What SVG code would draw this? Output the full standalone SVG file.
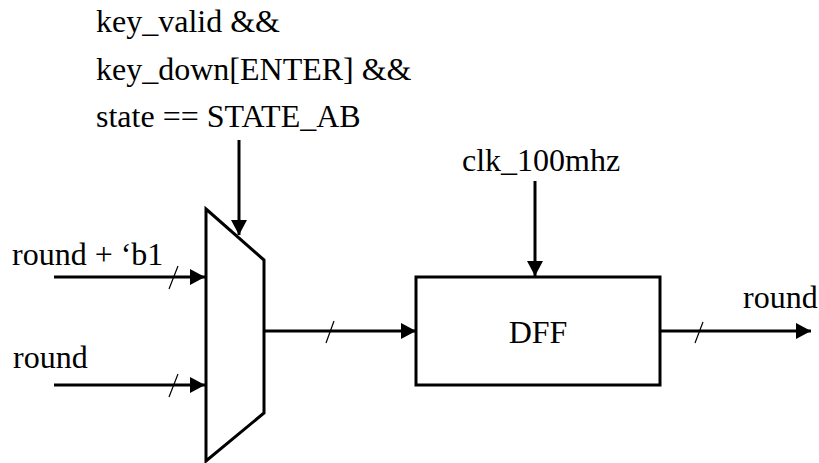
<svg xmlns="http://www.w3.org/2000/svg" width="819" height="463" viewBox="0 0 819 463">
<style>
text{font-family:"Liberation Serif","Times New Roman",serif;font-size:32px;fill:#000}
.l{fill:none;stroke:#000;stroke-width:3}
.s{fill:none;stroke:#000;stroke-width:1.2}
.n{fill:#fff;stroke:#000;stroke-width:3}
</style>
<defs><marker id="a" markerUnits="userSpaceOnUse" markerWidth="16" markerHeight="16" refX="15" refY="8" orient="auto"><path d="M0 0L15 8L0 16Z" fill="#000"/></marker></defs>
<rect width="819" height="463" fill="#fff"/>
<g id="mux"><path class="n" d="M206 209L264 260V413L206 461Z"/></g>
<g id="dff"><rect class="n" x="416" y="277" width="244" height="108"/><text x="538" y="343" text-anchor="middle">DFF</text></g>
<g id="connectors">
<path class="l" marker-end="url(#a)" d="M239 140V235"/>
<path class="l" marker-end="url(#a)" d="M54 277H205"/>
<path class="l" marker-end="url(#a)" d="M54 385H205"/>
<path class="l" marker-end="url(#a)" d="M264 331H416"/>
<path class="l" marker-end="url(#a)" d="M535 181V276"/>
<path class="l" marker-end="url(#a)" d="M660 331H811"/>
<path class="s" d="M169 289L178 266M169 397L178 374M326 343L334 321M695 343L703 322"/>
</g>
<g id="labels">
<text x="96" y="32">key_valid &amp;&amp;</text>
<text x="96" y="80">key_down[ENTER] &amp;&amp;</text>
<text x="96" y="127">state == STATE_AB</text>
<text x="462" y="171">clk_100mhz</text>
<text x="12" y="265">round + ‘b1</text>
<text x="13" y="368">round</text>
<text x="743" y="308">round</text>
</g>
</svg>
